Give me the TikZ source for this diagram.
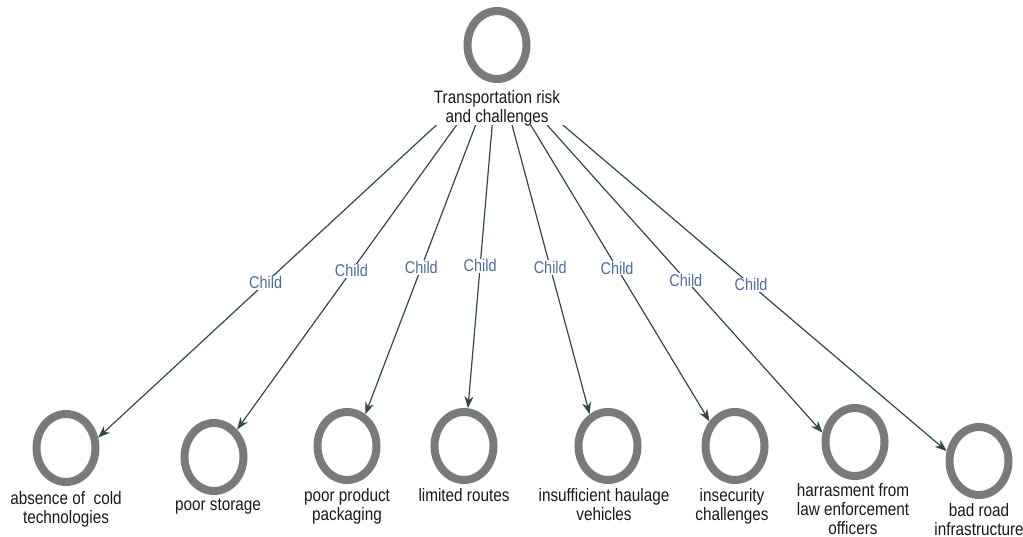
\documentclass[tikz,border=0pt]{standalone}
\usepackage{fontspec}
\setmainfont{Liberation Sans}[FakeStretch=0.85]
\usetikzlibrary{shapes.geometric,arrows.meta,positioning}
\definecolor{ringgray}{HTML}{7A7A7A}
\definecolor{edgecol}{HTML}{2F4A48}
\definecolor{lblcol}{HTML}{4F6C9E}
\begin{document}
\begin{tikzpicture}[x=1pt,y=-1pt,
  ring/.style={ellipse, draw=ringgray, line width=8pt, minimum width=59pt, minimum height=68pt, inner sep=0pt},
  txt/.style={align=center, inner sep=0pt, font=\fontsize{18}{19}\selectfont, text=black!90},
  edge/.style={draw=edgecol, line width=1.2pt, -{Stealth[length=12pt,width=9pt]}},
  lbl/.style={fill=white, inner sep=1pt, text=lblcol, font=\fontsize{17}{18}\selectfont, pos=0.58}]
\useasboundingbox (0,0) rectangle (1023,537);

% root
\node[ring] (root) at (497,45) {};
\node[txt, below=7pt of root] (rootlbl) {Transportation risk\\and challenges};
\coordinate (hub) at (497,69);

% children
\node[ring] (c1) at (66,448) {};
\node[ring] (c2) at (214,457) {};
\node[ring] (c3) at (347,446) {};
\node[ring] (c4) at (464,446) {};
\node[ring] (c5) at (608,446) {};
\node[ring] (c6) at (735,446) {};
\node[ring] (c7) at (855,442) {};
\node[ring] (c8) at (979,461) {};

\node[txt, below=5pt of c1] (t1) {absence of\ \ cold\\technologies};
\node[txt, below=4pt of c2, xshift=4pt] (t2) {poor storage};
\node[txt, below=4pt of c3] (t3) {poor product\\packaging};
\node[txt, below=4pt of c4] (t4) {limited routes};
\node[txt, below=4pt of c5, xshift=-4pt] (t5) {insufficient haulage\\vehicles};
\node[txt, below=4pt of c6, xshift=-3pt] (t6) {insecurity\\challenges};
\node[txt, below=3pt of c7, xshift=-2pt] (t7) {harrasment from\\law enforcement\\officers};
\node[txt, below=4pt of c8] (t8) {bad road\\infrastructure};

% connectors
\begin{scope}
\clip (0,126) rectangle (1023,537);
\draw[edge] (hub) -- node[lbl]{Child} (c1.18);
\draw[edge] (hub) -- node[lbl, pos=0.56]{Child} (c2.50);
\draw[edge] (hub) -- node[lbl, pos=0.575]{Child} (c3.60);
\draw[edge] (hub) -- node[lbl]{Child} (c4.84);
\draw[edge] (hub) -- node[lbl, pos=0.575]{Child} (c5.120);
\draw[edge] (hub) -- node[lbl, pos=0.565]{Child} (c6.136);
\draw[edge] (hub) -- node[lbl]{Child} (c7.164);
\draw[edge] (hub) -- node[lbl, pos=0.565]{Child} (c8.163);
\end{scope}
\end{tikzpicture}
\end{document}
